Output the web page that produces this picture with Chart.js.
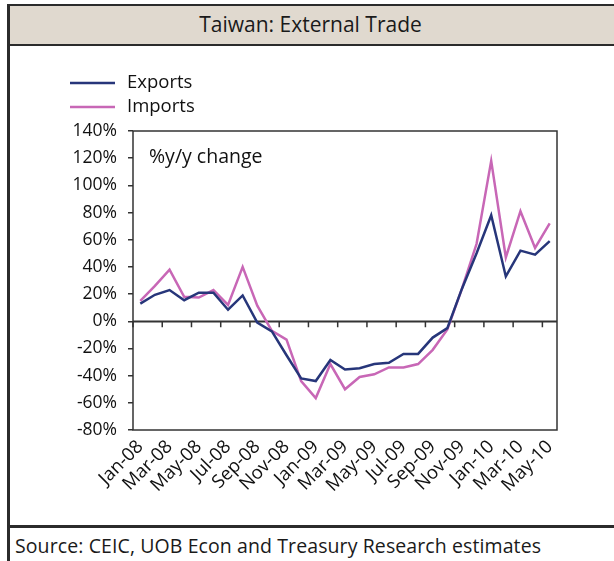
<!DOCTYPE html>
<html>
<head>
<meta charset="utf-8">
<script src="https://cdn.jsdelivr.net/npm/chart.js@4/dist/chart.umd.min.js"></script>
<style>
  body { margin: 0; background: #fff; font-family: "Open Sans", sans-serif; }
  #titlebar {
    position: absolute; left: 7px; top: 4px; width: 607px; height: 42px;
    box-sizing: border-box; background: #e0d9cf;
    border-top: 2.5px solid #2b2b2b; border-bottom: 2.5px solid #2b2b2b;
    text-align: center; font-size: 21px; line-height: 37px; color: #1a1a1a;
  }
  #leftline { position: absolute; left: 7px; top: 4px; width: 2.5px; height: 557px; background: #2b2b2b; }
  #sepline { position: absolute; left: 7px; top: 525px; width: 607px; height: 2.5px; background: #2b2b2b; }
  #source { position: absolute; left: 15px; top: 532px; font-size: 19.5px; color: #1a1a1a; letter-spacing: 0.1px; }
  #chart { position: absolute; left: 10px; top: 46px; }
</style>
</head>
<body>
<div id="titlebar">Taiwan: External Trade</div>
<div id="leftline"></div>
<div id="sepline"></div>
<div id="source">Source: CEIC, UOB Econ and Treasury Research estimates</div>
<canvas id="chart" width="604" height="478"></canvas>
<script>
const months = ["Jan-08","Feb-08","Mar-08","Apr-08","May-08","Jun-08","Jul-08","Aug-08","Sep-08","Oct-08","Nov-08","Dec-08",
                "Jan-09","Feb-09","Mar-09","Apr-09","May-09","Jun-09","Jul-09","Aug-09","Sep-09","Oct-09","Nov-09","Dec-09",
                "Jan-10","Feb-10","Mar-10","Apr-10","May-10"];
const exportsYoY = [13, 19.5, 23, 15.5, 21, 21, 8.5, 19, -1, -7.5, -25, -42, -44, -28.5, -35.5, -34.5, -31.5, -30.5, -24, -24, -12, -5, 24, 50, 78, 33, 52, 49, 59];
const importsYoY = [15, 26, 38, 18, 17.5, 23, 12, 40, 11.5, -7, -13.5, -44, -56.5, -31.5, -50, -41, -39, -34, -34, -31.5, -21, -6, 24, 57, 118, 47, 81, 54, 72];
const yTicks = [-80, -60, -40, -20, 0, 20, 40, 60, 80, 100, 120, 140];

const navy = "#27367a";
const pink = "#c867b6";
const axisColor = "#333333";
const fontFamily = "'Open Sans', sans-serif";

// box round the plot, zero line ticks, legend and note
const extras = {
    id: "extras",
    beforeDatasetsDraw(chart) {
        const { ctx, chartArea: a, scales: { x, y } } = chart;
        ctx.save();
        ctx.strokeStyle = axisColor;
        ctx.lineWidth = 1.5;
        ctx.strokeRect(a.left, a.top, a.right - a.left, a.bottom - a.top);
        const y0 = y.getPixelForValue(0);
        ctx.beginPath();
        ctx.moveTo(a.left, y0);
        ctx.lineTo(a.right, y0);
        const half = (x.getPixelForValue(1) - x.getPixelForValue(0)) / 2;
        for (let i = 0; i < months.length; i += 2) {
            const px = x.getPixelForValue(i) - half;
            ctx.moveTo(px, y0);
            ctx.lineTo(px, y0 + 6);
        }
        ctx.stroke();
        ctx.restore();
    },
    afterDraw(chart) {
        const { ctx } = chart;
        ctx.save();
        ctx.font = "18.5px " + fontFamily;
        ctx.textBaseline = "middle";
        ctx.fillStyle = "#111";
        chart.data.datasets.forEach((ds, i) => {
            const ly = 37 + i * 24;
            ctx.strokeStyle = ds.borderColor;
            ctx.lineWidth = 2.5;
            ctx.beginPath();
            ctx.moveTo(60, ly);
            ctx.lineTo(105, ly);
            ctx.stroke();
            ctx.fillText(ds.label, 117, ly);
        });
        ctx.font = "19.5px " + fontFamily;
        ctx.fillText("%y/y change", 139, 111);
        ctx.restore();
    }
};

new Chart(document.getElementById("chart"), {
    type: "line",
    data: {
        labels: months,
        datasets: [
            { label: "Exports", data: exportsYoY, borderColor: navy, borderWidth: 2.5, pointRadius: 0, tension: 0 },
            { label: "Imports", data: importsYoY, borderColor: pink, borderWidth: 2.5, pointRadius: 0, tension: 0 }
        ]
    },
    options: {
        responsive: false,
        animation: false,
        devicePixelRatio: 1,
        layout: { padding: { top: 85, right: 57, left: 0, bottom: 0 } },
        plugins: { legend: { display: false }, tooltip: { enabled: false } },
        scales: {
            x: {
                offset: true,
                grid: { display: false, drawTicks: false },
                border: { display: false },
                afterFit: s => { s.height = 94; },
                ticks: {
                    autoSkip: false,
                    minRotation: 45,
                    maxRotation: 45,
                    padding: 6,
                    color: "#111",
                    font: { family: fontFamily, size: 18.5 },
                    callback: (v, i) => (i % 2 === 0 ? months[i] : "")
                }
            },
            y: {
                min: -80,
                max: 140,
                afterFit: s => { s.width = 123; },
                afterBuildTicks: s => { s.ticks = yTicks.map(v => ({ value: v })); },
                grid: {
                    color: c => (c.tick && c.tick.value === 0 ? axisColor : "transparent"),
                    tickColor: axisColor,
                    tickLength: 5,
                    lineWidth: 1.5
                },
                border: { display: false },
                ticks: {
                    padding: 11,
                    color: "#111",
                    font: { family: fontFamily, size: 17.5 },
                    callback: v => v + "%"
                }
            }
        }
    },
    plugins: [extras]
});
</script>
</body>
</html>
